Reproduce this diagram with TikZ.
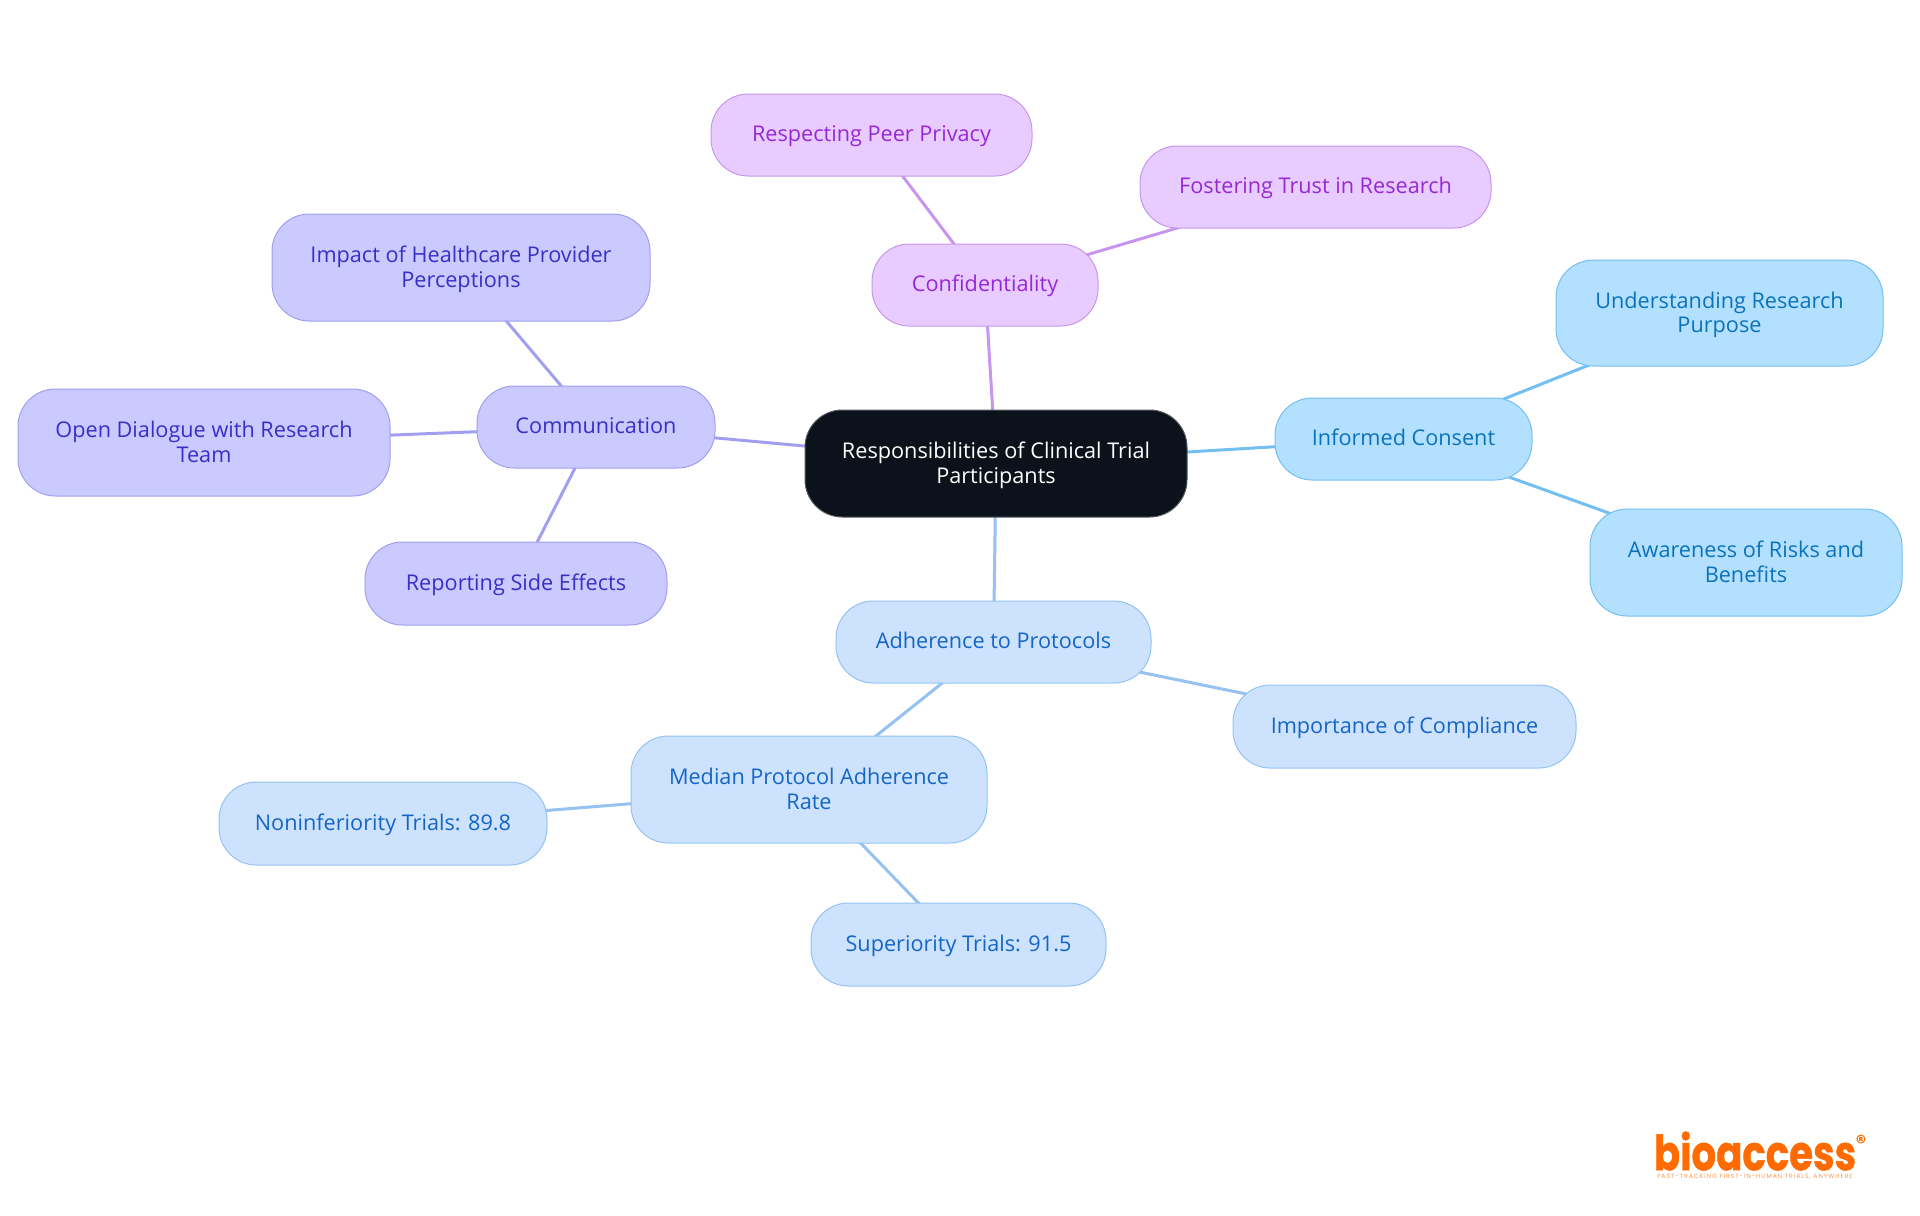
\documentclass[tikz,border=0pt]{standalone}
\usepackage{fontspec}
\usepackage{graphicx}
\setmainfont{Open Sans}
\newfontfamily\logofont{Poppins}
\usetikzlibrary{backgrounds}
\definecolor{rootfill}{HTML}{0B121B}
\definecolor{rootline}{HTML}{55595E}
\definecolor{bluefill}{HTML}{B3E0FF}
\definecolor{blueline}{HTML}{74BFF2}
\definecolor{bluetext}{HTML}{0B72BD}
\definecolor{skyfill}{HTML}{CDE3FD}
\definecolor{skyline}{HTML}{96C2F2}
\definecolor{skytext}{HTML}{1565C8}
\definecolor{purpfill}{HTML}{E8CCFF}
\definecolor{purpline}{HTML}{C795EE}
\definecolor{purptext}{HTML}{9628D9}
\definecolor{indfill}{HTML}{CACAFF}
\definecolor{indline}{HTML}{A29EF0}
\definecolor{indtext}{HTML}{3730C8}
\definecolor{logoorange}{HTML}{FF6B00}
\newcommand{\firstrow}{\rule{0pt}{16.9pt}}
\newcommand{\lastrow}{\rule[-6pt]{0pt}{0pt}}
\tikzset{
  x=0.75pt,y=-0.75pt,
  mm/.style={rounded corners=28pt,draw,line width=0.75pt,align=center,inner sep=0pt,
    font=\fontsize{16.25pt}{18.4pt}\selectfont,
    execute at begin node=\rule{0pt}{15.9pt},execute at end node=\strut},
  mmbox/.style n args={2}{mm,minimum width=#1*0.75pt,minimum height=#2*0.75pt},
  rootn/.style={fill=rootfill,draw=rootline,text=white},
  bluen/.style={fill=bluefill,draw=blueline,text=bluetext},
  skyn/.style={fill=skyfill,draw=skyline,text=skytext},
  purpn/.style={fill=purpfill,draw=purpline,text=purptext},
  indn/.style={fill=indfill,draw=indline,text=indtext},
  link/.style={line width=2.25pt},
}
\begin{document}
\begin{tikzpicture}
\useasboundingbox (0,0) rectangle (1920,1215);
\node[mmbox={382}{107},rootn] (root) at (996,463.5) {\firstrow Responsibilities of Clinical Trial\\Participants\lastrow};
\node[mmbox={257}{82},bluen] (ic) at (1403.5,439) {Informed Consent};
\node[mmbox={327}{106},bluen] (urp) at (1719.5,313) {\firstrow Understanding Research\\Purpose\lastrow};
\node[mmbox={312}{107},bluen] (arb) at (1746,562.5) {\firstrow Awareness of Risks and\\Benefits\lastrow};
\node[mmbox={315}{82},skyn] (ap) at (993.5,642) {Adherence to Protocols};
\node[mmbox={343}{83},skyn] (ioc) at (1404.5,726.5) {Importance of Compliance};
\node[mmbox={356}{107},skyn] (mpa) at (809,789.5) {\firstrow Median Protocol Adherence\\Rate\lastrow};
\node[mmbox={328}{83},skyn] (nt) at (383,823.5) {Noninferiority Trials: 89.8};
\node[mmbox={295}{83},skyn] (st) at (958.5,944.5) {Superiority Trials: 91.5};
\node[mmbox={238}{82},indn] (com) at (596,427) {Communication};
\node[mmbox={378}{107},indn] (imp) at (461,267.5) {\firstrow Impact of Healthcare Provider\\Perceptions\lastrow};
\node[mmbox={372}{107},indn] (odr) at (204,442.5) {\firstrow Open Dialogue with Research\\Team\lastrow};
\node[mmbox={302}{83},indn] (rse) at (516,583.5) {Reporting Side Effects};
\node[mmbox={226}{82},purpn] (con) at (985,285) {Confidentiality};
\node[mmbox={321}{82},purpn] (rpp) at (871.5,135) {Respecting Peer Privacy};
\node[mmbox={351}{82},purpn] (ftr) at (1315.5,187) {Fostering Trust in Research};
\begin{scope}[on background layer]
\draw[link,blueline] (root.center) -- (ic.center);
\draw[link,blueline] (ic.center) -- (urp.center);
\draw[link,blueline] (ic.center) -- (arb.center);
\draw[link,skyline] (root.center) -- (ap.center);
\draw[link,skyline] (ap.center) -- (ioc.center);
\draw[link,skyline] (ap.center) -- (mpa.center);
\draw[link,skyline] (mpa.center) -- (nt.center);
\draw[link,skyline] (mpa.center) -- (st.center);
\draw[link,indline] (root.center) -- (com.center);
\draw[link,indline] (com.center) -- (imp.center);
\draw[link,indline] (com.center) -- (odr.center);
\draw[link,indline] (com.center) -- (rse.center);
\draw[link,purpline] (root.center) -- (con.center);
\draw[link,purpline] (con.center) -- (rpp.center);
\draw[link,purpline] (con.center) -- (ftr.center);
\end{scope}
\node[inner sep=0pt,text=logoorange,font=\logofont\bfseries\addfontfeatures{FakeBold=1}\fontsize{29pt}{29pt}\selectfont] (logo) at (1755,1151) {\scalebox{1}[1.25]{bioaccess}};
\node[inner sep=0pt,text=logoorange,font=\logofont\bfseries\fontsize{15pt}{15pt}\selectfont] (reg) at (1861,1142) {®};
\node[inner sep=0pt,text=logoorange,opacity=0.7,font=\logofont\addfontfeatures{LetterSpace=16}\fontsize{4.6pt}{5pt}\selectfont] (tag) at (1755,1177) {FAST-TRACKING FIRST-IN-HUMAN TRIALS, ANYWHERE};
\end{tikzpicture}
\end{document}
